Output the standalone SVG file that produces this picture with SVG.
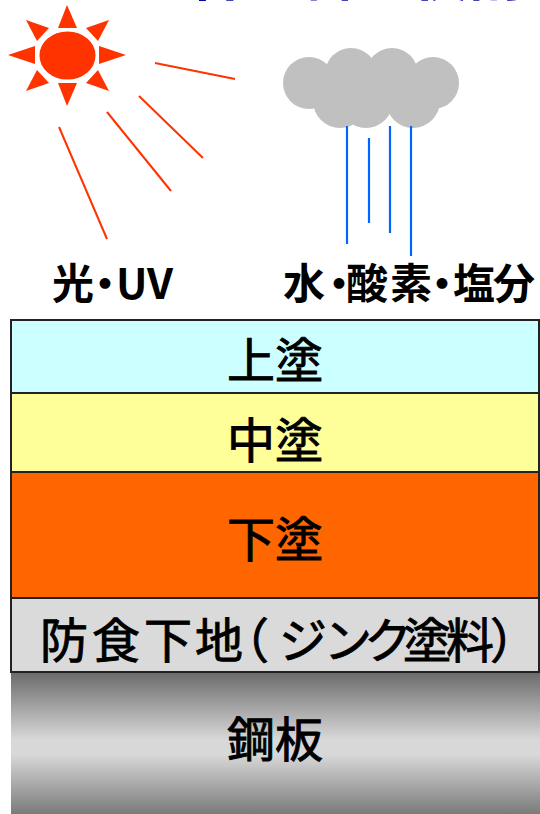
<svg xmlns="http://www.w3.org/2000/svg" width="540" height="814" viewBox="0 0 540 814">
  <style>
    .ray { stroke: #ff3300; stroke-width: 2; stroke-linecap: butt; }
    .rain { stroke: #0066ff; stroke-width: 2.2; }
    .sunpt { fill: #ff3300; }
    .label { font-family: "Noto Sans CJK JP", "Noto Sans", sans-serif; font-weight: bold; font-size: 42px; fill: #000; }
    .layer { stroke: #222; stroke-width: 2; }
    .ltext { font-family: "Noto Sans CJK JP", "Noto Sans", sans-serif; font-weight: normal; font-size: 48px; fill: #000; stroke: #000; stroke-width: 0.9; text-anchor: middle; }
    .ltext.free { text-anchor: start; }
    .title { font-family: "Noto Sans CJK JP", "Noto Sans", sans-serif; font-weight: bold; font-size: 56px; fill: #0000a0; }
  </style>
  <defs>
    <linearGradient id="steel" x1="0" y1="0" x2="0" y2="1">
      <stop offset="0" stop-color="#6a6a6a"/>
      <stop offset="0.45" stop-color="#d8d8d8"/>
      <stop offset="0.55" stop-color="#d8d8d8"/>
      <stop offset="1" stop-color="#6e6e6e"/>
    </linearGradient>
  </defs>

  <rect width="540" height="814" fill="#ffffff"/>

  <!-- heading, running off the top edge -->
  <text class="title" x="188" y="-5">各塗料の役割</text>

  <!-- sun -->
  <g id="sun">
    <polygon class="sunpt" points="67,5 58,28 77,28"/>
    <polygon class="sunpt" points="67,106 58,83 77,83"/>
    <polygon class="sunpt" points="8,55 35,46 35,64"/>
    <polygon class="sunpt" points="126,55 99,46 99,64"/>
    <polygon class="sunpt" points="26,20 49,28 37,41"/>
    <polygon class="sunpt" points="109,20 86,28 98,41"/>
    <polygon class="sunpt" points="26,91 49,83 37,70"/>
    <polygon class="sunpt" points="109,91 86,83 98,70"/>
    <ellipse cx="67.5" cy="55.5" rx="29.5" ry="25.5" fill="#ff3300" stroke="#ffffff" stroke-width="3"/>
  </g>

  <!-- light rays -->
  <g id="rays">
    <line class="ray" x1="155" y1="63" x2="235" y2="79"/>
    <line class="ray" x1="139" y1="96" x2="203" y2="158"/>
    <line class="ray" x1="107" y1="112" x2="171" y2="191"/>
    <line class="ray" x1="59" y1="127" x2="107" y2="239"/>
  </g>

  <!-- cloud -->
  <g id="cloud" fill="#c0c0c0">
    <circle cx="309" cy="83" r="26"/>
    <circle cx="351" cy="74" r="26"/>
    <circle cx="392" cy="74" r="26"/>
    <circle cx="433" cy="83" r="26"/>
    <circle cx="340" cy="101" r="27"/>
    <circle cx="366" cy="101" r="27"/>
    <circle cx="413" cy="101" r="27"/>
  </g>

  <!-- rain -->
  <g id="rain">
    <line class="rain" x1="347" y1="126" x2="347" y2="244"/>
    <line class="rain" x1="369" y1="138" x2="369" y2="223"/>
    <line class="rain" x1="390" y1="126" x2="390" y2="233"/>
    <line class="rain" x1="411" y1="126" x2="411" y2="256"/>
  </g>

  <g id="label-light">
    <text class="label" y="299"><tspan x="52">光</tspan><tspan x="84">・</tspan><tspan x="116">UV</tspan></text>
  </g>
  <g id="label-water">
    <text class="label" y="299"><tspan x="283">水</tspan><tspan x="318">・</tspan><tspan x="346">酸</tspan><tspan x="390">素</tspan><tspan x="421">・</tspan><tspan x="453">塩</tspan><tspan x="493">分</tspan></text>
  </g>

  <!-- coating layers, top to bottom -->
  <g id="layer-steel">
    <rect x="11" y="672" width="530" height="150" fill="url(#steel)"/>
    <text class="ltext" x="275" y="757">鋼板</text>
  </g>
  <g id="layer-top">
    <rect class="layer" x="11" y="320" width="528" height="73" fill="#ccffff"/>
    <text class="ltext" x="275" y="378">上塗</text>
  </g>
  <g id="layer-middle">
    <rect class="layer" x="11" y="393" width="528" height="79" fill="#ffff99"/>
    <text class="ltext" x="275" y="458">中塗</text>
  </g>
  <g id="layer-under">
    <rect class="layer" x="11" y="472" width="528" height="126" fill="#ff6600"/>
    <text class="ltext" x="275" y="557">下塗</text>
  </g>
  <g id="layer-primer">
    <rect class="layer" x="11" y="598" width="528" height="74" fill="#dadada"/>
    <text class="ltext free" y="658"><tspan x="40">防</tspan><tspan x="92">食</tspan><tspan x="144">下</tspan><tspan x="195">地</tspan><tspan x="221">（</tspan><tspan x="279">ジ</tspan><tspan x="324">ン</tspan><tspan x="364">ク</tspan><tspan x="403">塗</tspan><tspan x="446">料</tspan><tspan x="490">）</tspan></text>
  </g>
</svg>
